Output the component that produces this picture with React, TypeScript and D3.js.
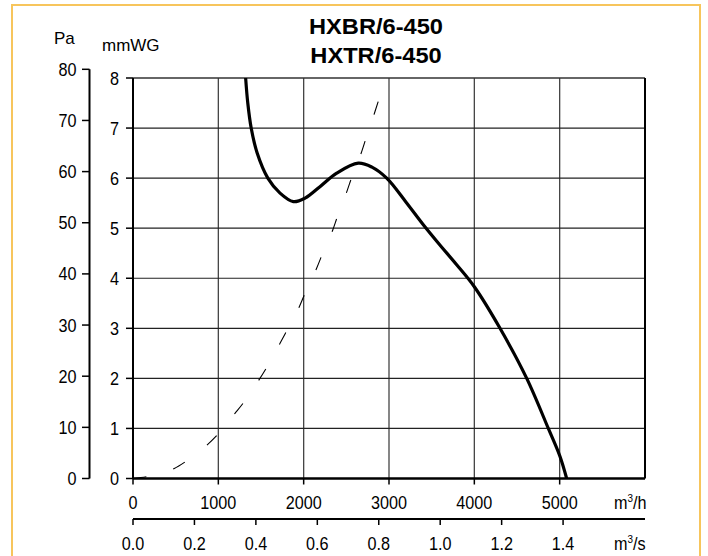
import React from "react";
import * as d3 from "d3";

const titleLines = ["HXBR/6-450", "HXTR/6-450"];
const flowTicksH = [0, 1000, 2000, 3000, 4000, 5000];
const flowTicksS = [0, 0.2, 0.4, 0.6, 0.8, 1.0, 1.2, 1.4];
const mmTicks = [0, 1, 2, 3, 4, 5, 6, 7, 8];
const paTicks = [0, 10, 20, 30, 40, 50, 60, 70, 80];

// fan curve: flow m3/h, pressure mmWG
const fanFlow = [1320, 1345, 1385, 1455, 1580, 1723, 1879, 2016, 2191, 2387, 2640, 2800, 2973, 3200, 3402, 3594, 3793, 4000, 4301, 4614, 4867, 5004, 5082];
const fanPres = [8.0, 7.5, 7.0, 6.5, 6.0, 5.70, 5.53, 5.60, 5.83, 6.10, 6.30, 6.22, 6.0, 5.52, 5.07, 4.67, 4.27, 3.83, 3.0, 2.0, 1.0, 0.44, 0.0];

// system curve (dashed)
const sysFlow = [0, 484, 618, 993, 1195, 1293, 1480, 1567, 1723, 1801, 1949, 2016, 2152, 2211, 2340, 2395, 2512, 2566, 2680, 2731, 2836, 2887];
const sysPres = [0, 0.20, 0.34, 0.88, 1.30, 1.51, 1.98, 2.22, 2.70, 2.95, 3.43, 3.70, 4.20, 4.45, 4.96, 5.23, 5.76, 6.03, 6.53, 6.80, 7.33, 7.60];

const W = 708, H = 556;
const PL = 133, PR = 645, PT = 78, PB = 478.5;
const FONT = "'Liberation Sans', Arial, Helvetica, sans-serif";
const SX = 0.9;

function T({ x, y, anchor = "start", size = 18, children }: { x: number; y: number; anchor?: string; size?: number; children: React.ReactNode }) {
  return (
    <text transform={`translate(${x},${y}) scale(${SX},1)`} textAnchor={anchor as any} fontSize={size} fill="#000">
      {children}
    </text>
  );
}

export default function App() {
  const x = d3.scaleLinear().domain([0, 6000]).range([PL, PR]);
  const xs = d3.scaleLinear().domain([0, 6000 / 3600]).range([PL, PR]);
  const y = d3.scaleLinear().domain([0, 8]).range([PB, PT]);
  const yPa = d3.scaleLinear().domain([0, 80]).range([PB, PB - 80 * 5.115]);

  const fanLine = d3.line<[number, number]>().x(d => x(d[0])).y(d => y(d[1])).curve(d3.curveCatmullRom.alpha(0.5));
  const sysLine = d3.line<[number, number]>().x(d => x(d[0])).y(d => y(d[1])).curve(d3.curveMonotoneX);
  const fanPts = fanFlow.map((f, i) => [f, fanPres[i]] as [number, number]);
  const sysPts = sysFlow.map((f, i) => [f, sysPres[i]] as [number, number]);

  const axX2 = 519;
  const paX = 89.5;

  return (
    <svg width={W} height={H} style={{ position: "absolute", left: 0, top: 0, background: "#fff" }} fontFamily={FONT}>
      <rect x={12} y={5} width={688} height={600} fill="none" stroke="#f7c55c" strokeWidth={2} />
      {titleLines.map((t, i) => (
        <text key={t} transform={`translate(376,${33.5 + i * 29.5}) scale(1.1,1)`} textAnchor="middle" fontWeight="bold" fontSize={21.5} fill="#000">{t}</text>
      ))}
      <text x={54} y={44} fontSize={17} fill="#000">Pa</text>
      <text x={102} y={51} fontSize={17} fill="#000">mmWG</text>

      {/* grid */}
      {flowTicksH.filter(v => v > 0).map(v => (
        <line key={"gv" + v} x1={x(v)} x2={x(v)} y1={PT} y2={PB} stroke="#444" strokeWidth={1.3} />
      ))}
      {mmTicks.filter(v => v > 0 && v < 8).map(v => (
        <line key={"gh" + v} x1={PL} x2={PR} y1={y(v)} y2={y(v)} stroke="#222" strokeWidth={1.2} />
      ))}
      <line x1={PL} x2={PR} y1={PT} y2={PT} stroke="#333" strokeWidth={1.5} />
      <line x1={PR} x2={PR} y1={PT} y2={PB} stroke="#000" strokeWidth={2} />
      <line x1={PL} x2={PL} y1={PT} y2={PB} stroke="#000" strokeWidth={2} />
      <line x1={PL} x2={PR} y1={PB} y2={PB} stroke="#000" strokeWidth={2.5} />

      {/* mmWG axis */}
      {mmTicks.map(v => (
        <g key={"mm" + v}>
          <line x1={PL - 7} x2={PL} y1={y(v)} y2={y(v)} stroke="#000" strokeWidth={1.5} />
          <T x={PL - 14} y={y(v) + 6.5} anchor="end">{v}</T>
        </g>
      ))}
      {/* Pa axis */}
      <line x1={paX} x2={paX} y1={yPa(80)} y2={yPa(0)} stroke="#000" strokeWidth={2} />
      {paTicks.map(v => (
        <g key={"pa" + v}>
          <line x1={paX - 7.5} x2={paX} y1={yPa(v)} y2={yPa(v)} stroke="#000" strokeWidth={1.5} />
          <T x={paX - 13} y={yPa(v) + 6.5} anchor="end">{v}</T>
        </g>
      ))}

      {/* m3/h axis */}
      {flowTicksH.map(v => (
        <g key={"fh" + v}>
          <line x1={x(v)} x2={x(v)} y1={PB} y2={PB + 6} stroke="#000" strokeWidth={1.5} />
          <T x={x(v)} y={508.5} anchor="middle">{v}</T>
        </g>
      ))}
      <T x={614} y={508.5}>m<tspan fontSize={11} dy={-7}>3</tspan><tspan dy={7}>/h</tspan></T>

      {/* m3/s axis */}
      <line x1={PL} x2={PR} y1={axX2} y2={axX2} stroke="#000" strokeWidth={2} />
      {flowTicksS.map(v => (
        <g key={"fs" + v}>
          <line x1={xs(v)} x2={xs(v)} y1={axX2} y2={axX2 + 6} stroke="#000" strokeWidth={1.5} />
          <T x={xs(v)} y={550} anchor="middle">{v.toFixed(1)}</T>
        </g>
      ))}
      <T x={614} y={550}>m<tspan fontSize={11} dy={-7}>3</tspan><tspan dy={7}>/s</tspan></T>

      {/* curves */}
      <path d={sysLine(sysPts) || ""} fill="none" stroke="#000" strokeWidth={1.1} strokeDasharray="13.5 28" />
      <path d={fanLine(fanPts) || ""} fill="none" stroke="#000" strokeWidth={3.2} strokeLinejoin="round" />
    </svg>
  );
}
